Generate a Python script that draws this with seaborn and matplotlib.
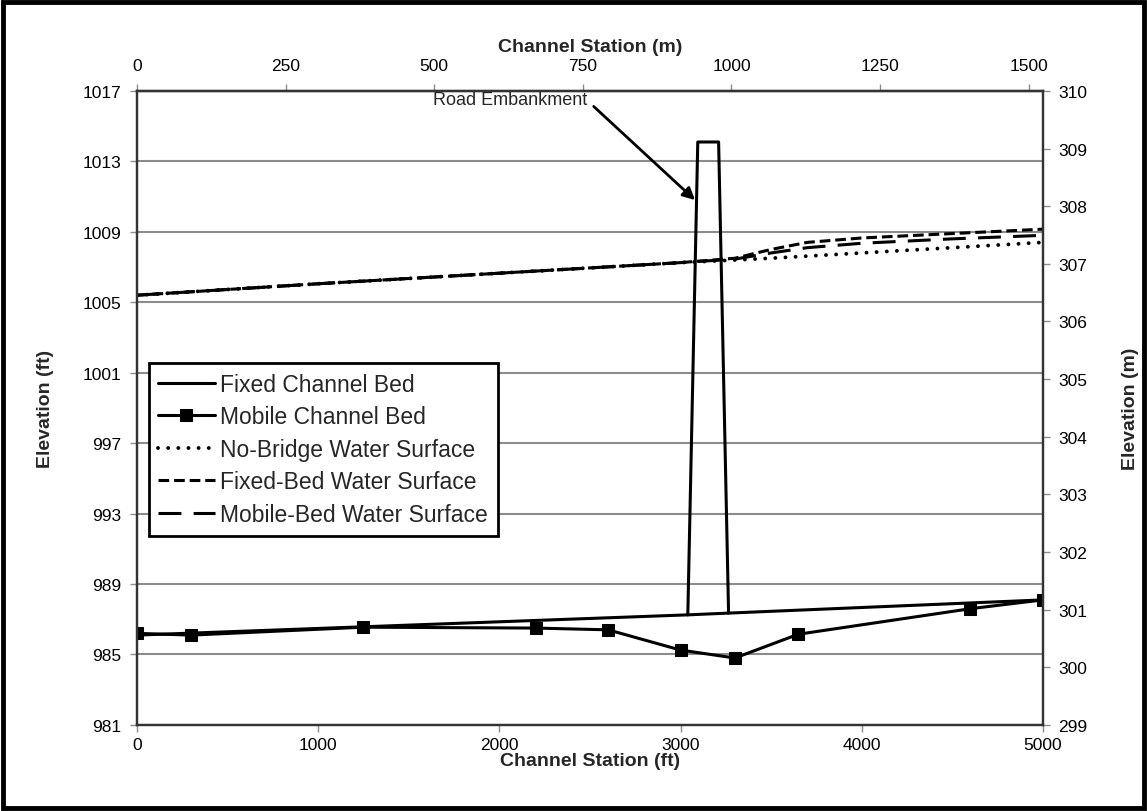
import matplotlib
matplotlib.use("Agg")
import matplotlib.pyplot as plt
import seaborn as sns
from matplotlib.patches import Rectangle

# Channel stations (ft) and elevations (ft)
fixed_bed_x = [0, 3040, 3265, 5000]
fixed_bed_y = [986.1, 987.25, 987.35, 988.1]

embankment_x = [3040, 3095, 3210, 3265]
embankment_y = [987.25, 1014.1, 1014.1, 987.35]

mobile_bed_x = [0, 300, 1250, 2200, 2600, 3000, 3300, 3650, 4600, 5000]
mobile_bed_y = [986.2, 986.1, 986.55, 986.5, 986.4, 985.25, 984.8, 986.15, 987.6, 988.1]

ws_x = [0, 1000, 2000, 3000, 3300, 3500, 3700, 4000, 4500, 5000]
no_bridge_ws = [1005.4, 1006.05, 1006.65, 1007.25, 1007.4, 1007.5, 1007.62, 1007.8, 1008.1, 1008.4]
fixed_bed_ws = [1005.4, 1006.05, 1006.65, 1007.25, 1007.5, 1008.0, 1008.4, 1008.65, 1008.9, 1009.15]
mobile_bed_ws = [1005.4, 1006.05, 1006.65, 1007.25, 1007.45, 1007.8, 1008.1, 1008.35, 1008.6, 1008.8]

ft_ticks = [0, 1000, 2000, 3000, 4000, 5000]
m_ticks = [0, 250, 500, 750, 1000, 1250, 1500]
elev_ft_ticks = list(range(981, 1018, 4))
elev_m_ticks = list(range(299, 311))

FT = 0.3048


def ft2m(v):
    return v * FT


def m2ft(v):
    return v / FT


sns.set_theme(style="white")
plt.rcParams["font.family"] = ["Liberation Sans", "DejaVu Sans"]

fig = plt.figure(figsize=(11.47, 8.12), dpi=100)
ax = fig.add_axes([0.1194, 0.106, 0.7899, 0.7808])

lw = 2.2
sns.lineplot(x=fixed_bed_x, y=fixed_bed_y, ax=ax, color="black", lw=lw,
             label="Fixed Channel Bed", estimator=None, sort=False)
sns.lineplot(x=mobile_bed_x, y=mobile_bed_y, ax=ax, color="black", lw=lw,
             marker="s", markersize=9, markeredgecolor="black",
             label="Mobile Channel Bed", estimator=None, sort=False)
sns.lineplot(x=ws_x, y=no_bridge_ws, ax=ax, color="black", lw=2.8,
             linestyle=(0, (0.01, 2.6)), dash_capstyle="round",
             label="No-Bridge Water Surface", estimator=None, sort=False)
sns.lineplot(x=ws_x, y=fixed_bed_ws, ax=ax, color="black", lw=lw,
             linestyle=(0, (3.5, 1.6)),
             label="Fixed-Bed Water Surface", estimator=None, sort=False)
sns.lineplot(x=ws_x, y=mobile_bed_ws, ax=ax, color="black", lw=lw,
             linestyle=(0, (7.5, 4)),
             label="Mobile-Bed Water Surface", estimator=None, sort=False)
sns.lineplot(x=embankment_x, y=embankment_y, ax=ax, color="black", lw=lw,
             label="_nolegend_", estimator=None, sort=False)

ax.set_xlim(0, 5000)
ax.set_ylim(981, 1017)
ax.set_xticks(ft_ticks)
ax.set_yticks(elev_ft_ticks)
ax.yaxis.grid(True, color="#8c8c8c", lw=1.5)
ax.xaxis.grid(False)

tick_kw = dict(labelsize=12.5, length=5, width=1, color="#8c8c8c",
               labelcolor="black", direction="out")
ax.tick_params(axis="both", which="major", pad=6, **tick_kw)
ax.tick_params(axis="x", bottom=True, pad=4)
ax.tick_params(axis="y", left=True)

ax.set_xlabel("Channel Station (ft)", fontsize=14, fontweight="bold", labelpad=0)
ax.set_ylabel("Elevation (ft)", fontsize=14, fontweight="bold", labelpad=21)

top = ax.secondary_xaxis("top", functions=(ft2m, m2ft))
top.set_xticks(m_ticks)
top.tick_params(axis="x", top=True, pad=8, **tick_kw)
top.set_xlabel("Channel Station (m)", fontsize=14, fontweight="bold", labelpad=5)

# right axis in Excel is a separate 299-310 m scale spanning the same height
right = ax.twinx()
right.set_ylim(299, 310)
right.set_yticks(elev_m_ticks)
right.grid(False)
right.tick_params(axis="y", right=True, pad=6, **tick_kw)
right.set_ylabel("Elevation (m)", fontsize=14, fontweight="bold", labelpad=25)
right.yaxis.get_major_ticks()[0].tick2line.set_color("#8fb4e3")

for a in (ax, top, right):
    for s in a.spines.values():
        s.set_color("#333333")
        s.set_linewidth(1.6)

ax.annotate("Road Embankment", xy=(3080, 1010.8), xytext=(2060, 1016.5),
            fontsize=13, ha="center", va="center",
            arrowprops=dict(arrowstyle="-|>", color="black", lw=2,
                            mutation_scale=18, shrinkA=3, shrinkB=0,
                            relpos=(1.0, 0.45)))

leg = ax.legend(loc="upper left", bbox_to_anchor=(0.013, 0.571), borderaxespad=0,
                fontsize=16.5, frameon=True, fancybox=False, framealpha=1,
                handlelength=2.45, labelspacing=0.42, handletextpad=0.25,
                borderpad=0.42)
leg.get_frame().set_edgecolor("black")
leg.get_frame().set_linewidth(2)

fig.patches.append(Rectangle((0.003, 0.004), 0.994, 0.992, transform=fig.transFigure,
                             fill=False, edgecolor="black", lw=3.5))

fig.savefig("out.png", dpi=100)
